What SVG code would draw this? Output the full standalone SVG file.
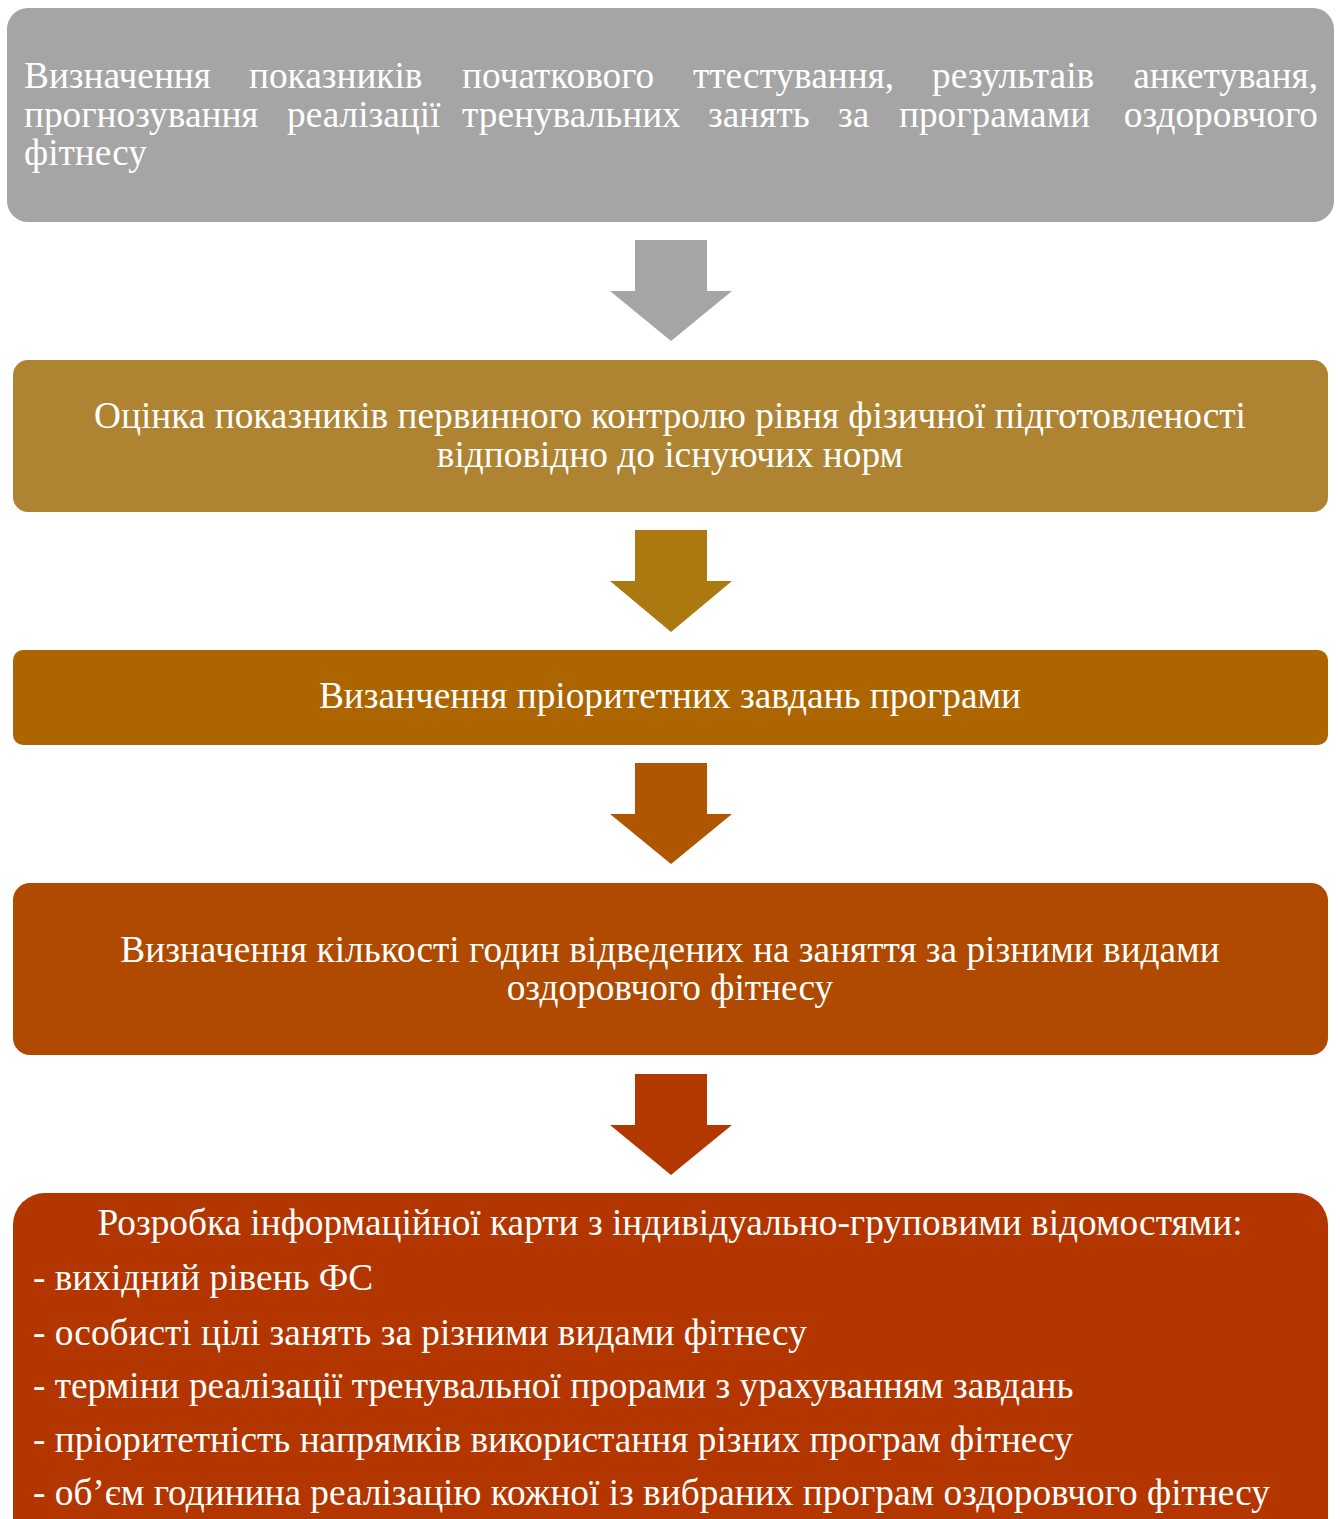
<svg xmlns="http://www.w3.org/2000/svg" width="1340" height="1519" viewBox="0 0 1340 1519">
<style>
text{font-family:"Liberation Serif","Times New Roman",serif;font-size:37.3px;fill:#ffffff}
.c{text-anchor:middle}
.e{text-anchor:end}
</style>
<rect width="1340" height="1519" fill="#ffffff"/>
<g id="connectors">
<polygon points="635,240 707,240 707,291 732,291 671,341 610,291 635,291" fill="#a5a5a5"/>
<polygon points="635,530 707,530 707,581 732,581 671,632 610,581 635,581" fill="#ac7910"/>
<polygon points="635,763 707,763 707,814 732,814 671,864 610,814 635,814" fill="#b05500"/>
<polygon points="635,1074 707,1074 707,1125 732,1125 671,1175 610,1125 635,1125" fill="#b33800"/>
</g>
<g id="node1">
<rect x="7" y="8" width="1327" height="214" rx="21" fill="#a5a5a5"/>
<text y="88"><tspan x="24">Визначення</tspan><tspan x="249">показників</tspan><tspan x="462">початкового</tspan><tspan x="693">ттестування,</tspan><tspan x="932">результаів</tspan></text>
<text class="e" x="1318" y="88">анкетуваня,</text>
<text y="127"><tspan x="24">прогнозування</tspan><tspan x="287">реалізації</tspan><tspan x="462">тренувальних</tspan><tspan x="708">занять</tspan><tspan x="838">за</tspan><tspan x="899">програмами</tspan></text>
<text class="e" x="1318" y="127">оздоровчого</text>
<text x="24" y="165">фітнесу</text>
</g>
<g id="node2">
<rect x="13" y="360" width="1315" height="152" rx="15" fill="#ae8432"/>
<text class="c" x="670" y="428">Оцінка показників первинного контролю рівня фізичної підготовленості</text>
<text class="c" x="670" y="467">відповідно до існуючих норм</text>
</g>
<g id="node3">
<rect x="13" y="650" width="1315" height="95" rx="10" fill="#ac6500"/>
<text class="c" x="670" y="708">Визанчення пріоритетних завдань програми</text>
</g>
<g id="node4">
<rect x="13" y="883" width="1315" height="172" rx="17" fill="#af4a00"/>
<text class="c" x="670" y="962">Визначення кількості годин відведених на заняття за різними видами</text>
<text class="c" x="670" y="1000">оздоровчого фітнесу</text>
</g>
<g id="node5">
<rect x="13" y="1193" width="1315" height="360" rx="32" fill="#b33600"/>
<text class="c" x="670" y="1235">Розробка інформаційної карти з індивідуально-груповими відомостями:</text>
<text x="33" y="1290">- вихідний рівень ФС</text>
<text x="33" y="1345">- особисті цілі занять за різними видами фітнесу</text>
<text x="33" y="1398">- терміни реалізації тренувальної прорами з урахуванням завдань</text>
<text x="33" y="1452">- пріоритетність напрямків використання різних програм фітнесу</text>
<text x="33" y="1505">- об’єм годинина реалізацію кожної із вибраних програм оздоровчого фітнесу</text>
</g>
</svg>
